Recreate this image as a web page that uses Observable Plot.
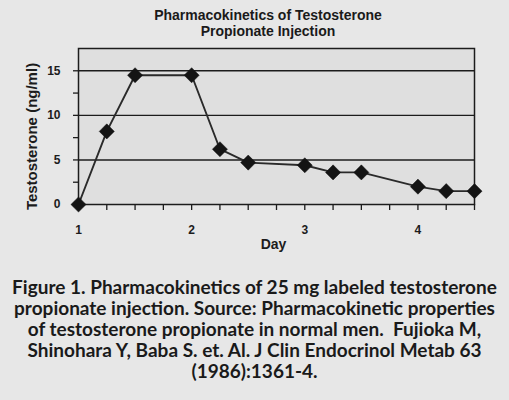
<!DOCTYPE html>
<html>
<head>
<meta charset="utf-8">
<script src="https://cdn.jsdelivr.net/npm/d3@7"></script>
<script src="https://cdn.jsdelivr.net/npm/@observablehq/plot@0.6"></script>
<style>
  html, body { margin: 0; padding: 0; }
  body { width: 509px; height: 400px; overflow: hidden; background: #e7e7e7; color: #1a1a1a; }
  #title { font: bold 14px "Liberation Sans", Arial, sans-serif; text-align: center; line-height: 16px;
           padding-top: 7px; padding-left: 27px; height: 40px; box-sizing: border-box; color: #1a1a1a; }
  #chart svg { display: block; }
  #caption { font-family: Lato, "Open Sans", sans-serif; font-weight: 700; font-size: 19px; line-height: 21px;
             text-align: center; margin-top: 21px; color: #1a1a1a; white-space: nowrap; }
</style>
</head>
<body>
<div id="title"></div>
<div id="chart"></div>
<div id="caption"></div>
<script>
// ---- data ----
const titleLines = ["Pharmacokinetics of Testosterone", "Propionate Injection"];
const days = [1, 1.25, 1.5, 2, 2.25, 2.5, 3, 3.25, 3.5, 4, 4.25, 4.5];
const testosterone = [0, 8.2, 14.5, 14.5, 6.2, 4.7, 4.4, 3.6, 3.6, 2.0, 1.5, 1.5];
const dayTicks = [1, 2, 3, 4];
const quarterTicks = [1, 1.25, 1.5, 1.75, 2, 2.25, 2.5, 2.75, 3, 3.25, 3.5, 3.75, 4, 4.25, 4.5];
const yTicks = [0, 5, 10, 15];
const yMinorTicks = [0, 2.5, 5, 7.5, 10, 12.5, 15];
const gridValues = [5, 10, 15];
const xLabel = "Day";
const yLabel = "Testosterone (ng/ml)";
const captionLines = [
  "Figure 1. Pharmacokinetics of 25 mg labeled testosterone",
  "propionate injection. Source: Pharmacokinetic properties",
  "of testosterone propionate in normal men.  Fujioka M,",
  "Shinohara Y, Baba S. et. Al. J Clin Endocrinol Metab 63",
  "(1986):1361-4."
];

const data = days.map((d, i) => ({day: d, value: testosterone[i]}));

document.getElementById("title").innerHTML = titleLines.join("<br>");
document.getElementById("caption").innerHTML = captionLines.map(s => s.replace(/  /g, "&nbsp; ")).join("<br>");

const ink = "#1c1c1c";
const chart = Plot.plot({
  width: 509,
  height: 215,
  marginTop: 8,
  marginLeft: 78,
  marginRight: 35,
  marginBottom: 51,
  style: {fontFamily: "'Liberation Sans', Arial, sans-serif", fontWeight: "bold", fontSize: "12px",
          background: "transparent", color: ink, overflow: "visible"},
  x: {domain: [1, 4.5]},
  y: {domain: [0, 17.5]},
  marks: [
    Plot.frame({fill: "#dfdfdf", stroke: null}),
    Plot.ruleY(gridValues, {stroke: ink, strokeWidth: 1.4}),
    Plot.frame({stroke: ink, strokeWidth: 1.5}),
    Plot.axisX({ticks: quarterTicks, tickSize: 6, tickFormat: () => "", label: null, stroke: ink, strokeWidth: 1.3}),
    Plot.axisX({ticks: dayTicks, tickSize: 0, tickPadding: 21, tickFormat: d => d, label: null, fill: ink}),
    Plot.axisY({ticks: yMinorTicks, tickSize: 5, tickFormat: () => "", label: null, stroke: ink, strokeWidth: 1.3}),
    Plot.axisY({ticks: yTicks, tickSize: 0, tickPadding: 18, tickFormat: d => d, label: null, fill: ink}),
    Plot.text([xLabel], {frameAnchor: "bottom", textAnchor: "middle", lineAnchor: "middle", dy: 40, dx: -3,
                         text: d => d, fontSize: 14, fontWeight: "bold", fill: ink}),
    Plot.text([yLabel], {frameAnchor: "left", textAnchor: "middle", lineAnchor: "middle", rotate: -90, dx: -46, dy: 10,
                         text: d => d, fontSize: 15, fontWeight: "bold", fill: ink}),
    Plot.line(data, {x: "day", y: "value", stroke: "#2a2a2a", strokeWidth: 1.9}),
    Plot.dot(data, {x: "day", y: "value", symbol: "diamond2", r: 6.8, fill: "#141414", stroke: "#141414", strokeWidth: 0.5})
  ]
});
document.getElementById("chart").appendChild(chart);
</script>
</body>
</html>
